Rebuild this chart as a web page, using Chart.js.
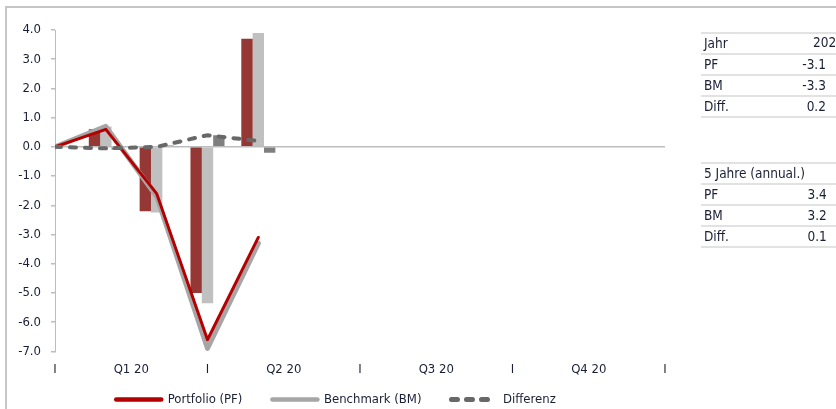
<!DOCTYPE html>
<html>
<head>
<meta charset="utf-8">
<script src="https://cdn.jsdelivr.net/npm/chart.js@4/dist/chart.umd.min.js"></script>
<style>
  html, body { margin: 0; padding: 0; background: #fff; }
  body { width: 836px; height: 409px; position: relative; overflow: hidden;
         font-family: 'DejaVu Sans Condensed', 'Liberation Sans Narrow', sans-serif; color: #1a1f36; }
  .frame { position: absolute; left: 5px; top: 6px; width: 840px; height: 420px;
           border-top: 2px solid #c6c6c6; border-left: 2px solid #c6c6c6; }
  #wrap { position: absolute; left: 7px; top: 8px; width: 750px; height: 408px; }
  .tbl { position: absolute; left: 701px; width: 160px; border-collapse: collapse; font-size: 13.5px; }
  .tbl td { height: 19px; padding: 0; border-top: 2px solid #e2e2e2; border-bottom: 2px solid #e2e2e2; line-height: 17px; }
  .tbl td.lbl { padding-left: 3px; width: 90px; }
  .tbl td.val { text-align: right; width: 34px; padding-right: 0; }
  .tbl td.rest { width: 36px; }
</style>
</head>
<body>
<div class="frame"></div>
<div id="wrap"><canvas id="chart"></canvas></div>
<table class="tbl" id="tblYear" style="top:32px"></table>
<table class="tbl" id="tbl5y" style="top:162px"></table>
<script>
// Month positions on the 0..12 axis (0 = start of the year)
const monthPos = [1, 2, 3, 4];
// Monthly returns in %
const pfMonthly = [0.6, -2.2, -5.0, 3.7];
const bmMonthly = [0.7, -2.25, -5.35, 3.9];
const diffMonthly = [-0.1, 0.05, 0.4, -0.2];
// Cumulative performance in %, starting at 0
const cumPos = [0, 1, 2, 3, 4];
const pfCumulative = [0, 0.6, -1.6, -6.6, -3.1];
const bmCumulative = [0, 0.7, -1.7, -6.9, -3.3];
const diffCumulative = [0, -0.05, 0.0, 0.4, 0.2];
// Axis labels: quarter separators and quarter names
const xTickPos = [0, 1.5, 3, 4.5, 6, 7.5, 9, 10.5, 12];
const xTickLabels = ['I', 'Q1 20', 'I', 'Q2 20', 'I', 'Q3 20', 'I', 'Q4 20', 'I'];
// Summary tables
const yearHeader = ['Jahr', '2020'];
const yearRows = ['PF', 'BM', 'Diff.'];
const yearValues = ['-3.1', '-3.3', '0.2'];
const fiveYearHeader = '5 Jahre (annual.)';
const fiveYearValues = ['3.4', '3.2', '0.1'];

const FONT = "'DejaVu Sans Condensed', 'Liberation Sans Narrow', sans-serif";
const FS = 13;
const TEXT = '#1a1f36';
// how far the legend's upper padding may be shared with the axis labels
const LEGEND_OVERLAP = 24;

function pts(xs, ys) { return xs.map((x, i) => ({ x, y: ys[i] })); }

function buildTable(el, header, labels, values) {
  let html = '';
  if (Array.isArray(header)) {
    html += `<tr><td class="lbl">${header[0]}</td><td class="val"></td><td class="rest" style="position:relative"><span style="position:absolute;left:-13px;top:0">${header[1]}</span></td></tr>`;
  } else {
    html += `<tr><td class="lbl" colspan="2" style="white-space:nowrap">${header}</td><td class="rest"></td></tr>`;
  }
  labels.forEach((l, i) => {
    html += `<tr><td class="lbl">${l}</td><td class="val">${values[i]}</td><td class="rest"></td></tr>`;
  });
  el.innerHTML = html;
}
buildTable(document.getElementById('tblYear'), yearHeader, yearRows, yearValues);
buildTable(document.getElementById('tbl5y'), fiveYearHeader, yearRows, fiveYearValues);

// Keeps wide horizontal gaps between legend items without the same gap above them
const compactLegend = {
  id: 'compactLegend',
  afterInit(chart) {
    const lg = chart.legend;
    if (!lg) return;
    const fit = lg.fit;
    lg.fit = function () { fit.call(this); this.height -= LEGEND_OVERLAP; };
    const draw = lg.draw;
    lg.draw = function () { this.top -= LEGEND_OVERLAP; draw.call(this); this.top += LEGEND_OVERLAP; };
  }
};

new Chart(document.getElementById('chart'), {
  type: 'bar',
  data: {
    datasets: [
      { type: 'line', label: 'Portfolio (PF)', data: pts(cumPos, pfCumulative),
        borderColor: '#b40000', backgroundColor: '#b40000', borderWidth: 3, pointRadius: 0,
        tension: 0, order: 1, borderCapStyle: 'round', borderJoinStyle: 'round' },
      { type: 'line', label: 'Benchmark (BM)', data: pts(cumPos, bmCumulative),
        borderColor: '#a6a6a6', backgroundColor: '#a6a6a6', borderWidth: 5, pointRadius: 0,
        tension: 0, order: 2, borderCapStyle: 'round', borderJoinStyle: 'round' },
      { type: 'line', label: 'Differenz', data: pts(cumPos, diffCumulative),
        borderColor: '#686868', backgroundColor: '#686868', borderWidth: 4, pointRadius: 0,
        borderDash: [6, 9], borderCapStyle: 'round', tension: 0, order: 0 },
      { label: 'PF Monat', data: pts(monthPos, pfMonthly), backgroundColor: '#953735', order: 3 },
      { label: 'BM Monat', data: pts(monthPos, bmMonthly), backgroundColor: '#c0c0c0', order: 3 },
      { label: 'Diff Monat', data: pts(monthPos, diffMonthly), backgroundColor: '#7f7f7f', order: 3 }
    ]
  },
  plugins: [compactLegend],
  options: {
    responsive: true,
    maintainAspectRatio: false,
    animation: false,
    events: [],
    datasets: { bar: { categoryPercentage: 0.67, barPercentage: 1 } },
    layout: { padding: { top: 22, right: 92, left: 0, bottom: 0 } },
    scales: {
      x: {
        type: 'linear', min: 0, max: 12, offset: false,
        grid: { display: false, drawTicks: false, offset: false },
        border: { display: false },
        afterBuildTicks: (scale) => { scale.ticks = xTickPos.map(v => ({ value: v })); },
        ticks: {
          autoSkip: false, maxRotation: 0, padding: 10,
          color: TEXT, font: { family: FONT, size: FS },
          callback: (v) => { const i = xTickPos.indexOf(v); return i >= 0 ? xTickLabels[i] : ''; }
        }
      },
      y: {
        min: -7, max: 4,
        afterFit: (scale) => { scale.width = 48; },
        border: { display: true, color: '#bdbdbd', width: 1 },
        grid: {
          drawOnChartArea: true, drawTicks: true, tickLength: 4, tickColor: '#bdbdbd',
          color: (ctx) => (ctx.tick && ctx.tick.value === 0 ? '#bdbdbd' : 'rgba(0,0,0,0)'),
          lineWidth: 1.5
        },
        ticks: {
          stepSize: 1, padding: 10, color: TEXT, font: { family: FONT, size: FS },
          callback: (v) => Number(v).toFixed(1)
        }
      }
    },
    plugins: {
      tooltip: { enabled: false },
      legend: {
        position: 'bottom',
        labels: {
          usePointStyle: true, pointStyleWidth: 45, boxHeight: 6, padding: 30,
          color: TEXT, font: { family: FONT, size: FS },
          generateLabels: (chart) => chart.data.datasets.slice(0, 3).map((ds, i) => ({
            text: ds.label, datasetIndex: i, hidden: false,
            strokeStyle: ds.borderColor, fillStyle: ds.borderColor,
            lineWidth: i === 2 ? 5 : 4.5, lineDash: ds.borderDash || [],
            lineCap: 'round', pointStyle: 'line', fontColor: TEXT
          }))
        }
      }
    }
  }
});
</script>
</body>
</html>
